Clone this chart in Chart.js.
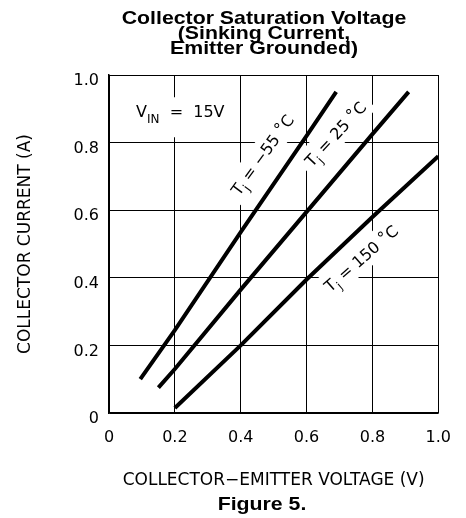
<!DOCTYPE html>
<html lang="en">
<head>
<meta charset="UTF-8">
<title>Collector Saturation Voltage</title>
<style>
  body { margin: 0; background: #fff; }
  canvas { display: block; }
</style>
</head>
<body>
<canvas id="grafico" width="466" height="518"></canvas>
<script src="https://cdn.jsdelivr.net/npm/chart.js"></script>
<script>
  // valores
  const vceM55 = [0.095, 0.2, 0.4, 0.6, 0.69];
  const icM55  = [0.10, 0.245, 0.535, 0.82, 0.95];
  const vce25  = [0.15, 0.2, 0.4, 0.6, 0.8, 0.91];
  const ic25   = [0.075, 0.13, 0.365, 0.595, 0.825, 0.95];
  const vce150 = [0.2, 0.4, 0.6, 0.8, 1.0];
  const ic150  = [0.015, 0.20, 0.395, 0.58, 0.76];
  const temps  = ['\u221255', '25', '150'];
  const xTicks = [0, 0.2, 0.4, 0.6, 0.8, 1.0];
  const yTicks = [0, 0.2, 0.4, 0.6, 0.8, 1.0];
  const titulo = ['Collector Saturation Voltage', '(Sinking Current,', 'Emitter Grounded)'];
  const legenda = 'Figure 5.';

  const FONTE = '"DejaVu Sans", sans-serif';
  const FONTE_TIT = '"Liberation Sans", Arial, sans-serif';

  // onde ficam os rotulos das curvas (coordenadas de dados) e o angulo
  const rotulos = [
    { temp: temps[0], x: 0.465, y: 0.764, ang: 54 },
    { temp: temps[1], x: 0.687, y: 0.826, ang: 47 },
    { temp: temps[2], x: 0.765, y: 0.458, ang: 41 }
  ];

  function pontos(xs, ys) {
    return xs.map((v, i) => ({ x: v, y: ys[i] }));
  }

  // desenha texto com partes (subscrito etc), retorna a largura
  function partes(ctx, lista, x0, base, desenhar) {
    let x = x0;
    lista.forEach(p => {
      ctx.font = p.size + 'px ' + FONTE;
      if (desenhar) ctx.fillText(p.t, x, base + (p.dy || 0));
      x += ctx.measureText(p.t).width;
    });
    return x - x0;
  }

  // texto em negrito um pouco esticado na horizontal, como no original
  function textoLargo(ctx, txt, cx, base) {
    ctx.save();
    ctx.translate(cx, base);
    ctx.scale(1.15, 1);
    ctx.fillText(txt, 0, 0);
    ctx.restore();
  }

  const anotacoes = {
    id: 'anotacoes',
    beforeDatasetsDraw(chart) {
      const { ctx, scales: { x, y } } = chart;
      ctx.save();
      ctx.textBaseline = 'alphabetic';
      ctx.textAlign = 'left';

      // caixa V_IN
      const vin = [
        { t: 'V', size: 16 },
        { t: 'IN', size: 12, dy: 6 },
        { t: '  =  15V', size: 16 }
      ];
      const vx = x.getPixelForValue(0.082);
      const vy = y.getPixelForValue(0.875);
      const vw = partes(ctx, vin, vx, vy, false);
      ctx.fillStyle = '#fff';
      ctx.fillRect(vx - 6, vy - 20, vw + 12, 40);
      ctx.fillStyle = '#000';
      partes(ctx, vin, vx, vy, true);

      // rotulos Tj
      rotulos.forEach(r => {
        const txt = [
          { t: 'T', size: 16 },
          { t: 'j', size: 12, dy: 5 },
          { t: ' = ' + r.temp + ' ', size: 16 },
          { t: '\u00b0', size: 16, dy: -2 },
          { t: 'C', size: 16 }
        ];
        const px = x.getPixelForValue(r.x);
        const py = y.getPixelForValue(r.y);
        ctx.save();
        ctx.translate(px, py);
        ctx.rotate(-r.ang * Math.PI / 180);
        const w = partes(ctx, txt, 0, 0, false);
        ctx.fillStyle = '#fff';
        ctx.fillRect(-w / 2 - 6, -13, w + 12, 26);
        ctx.fillStyle = '#000';
        partes(ctx, txt, -w / 2, 6, true);
        ctx.restore();
      });
      ctx.restore();
    },
    afterDraw(chart) {
      const { ctx } = chart;
      ctx.save();
      ctx.fillStyle = '#000';
      ctx.textAlign = 'center';
      ctx.textBaseline = 'alphabetic';
      ctx.font = 'bold 18.5px ' + FONTE_TIT;
      const bases = [24, 38.5, 54];
      titulo.forEach((l, i) => textoLargo(ctx, l, 264, bases[i]));
      textoLargo(ctx, legenda, 262, 510);
      ctx.restore();
    }
  };

  const estiloLinha = {
    borderColor: '#000',
    borderWidth: 4,
    borderCapStyle: 'butt',
    pointRadius: 0,
    tension: 0,
    fill: false
  };

  new Chart(document.getElementById('grafico'), {
    type: 'line',
    data: {
      datasets: [
        { label: 'Tj = ' + temps[0] + ' \u00b0C', data: pontos(vceM55, icM55), ...estiloLinha },
        { label: 'Tj = ' + temps[1] + ' \u00b0C', data: pontos(vce25, ic25), ...estiloLinha },
        { label: 'Tj = ' + temps[2] + ' \u00b0C', data: pontos(vce150, ic150), ...estiloLinha }
      ]
    },
    options: {
      responsive: false,
      animation: false,
      layout: { padding: { top: 75, right: 21, left: 0, bottom: 0 } },
      plugins: {
        legend: { display: false },
        tooltip: { enabled: false },
        title: { display: false }
      },
      scales: {
        x: {
          type: 'linear',
          min: 0,
          max: 1,
          afterBuildTicks: s => { s.ticks = xTicks.map(v => ({ value: v })); },
          afterFit: s => { s.height = 105; },
          grid: { color: '#000', lineWidth: 1, drawTicks: false },
          border: { color: '#000', width: 1.5 },
          ticks: {
            color: '#000',
            padding: 15,
            font: { family: FONTE, size: 16 },
            callback: v => v === 0 ? '0' : v.toFixed(1)
          },
          title: {
            display: true,
            text: 'COLLECTOR\u2212EMITTER VOLTAGE (V)',
            color: '#000',
            font: { family: FONTE, size: 17 },
            padding: { top: 0, bottom: 27 }
          }
        },
        y: {
          type: 'linear',
          min: 0,
          max: 1,
          afterBuildTicks: s => { s.ticks = yTicks.map(v => ({ value: v })); },
          afterFit: s => { s.width = 109; },
          grid: { color: '#000', lineWidth: 1, drawTicks: false },
          border: { color: '#000', width: 1.5 },
          ticks: {
            color: '#000',
            padding: 10,
            labelOffset: 6,
            font: { family: FONTE, size: 16 },
            callback: v => v === 0 ? '0' : v.toFixed(1)
          },
          title: {
            display: true,
            text: 'COLLECTOR CURRENT (A)',
            color: '#000',
            font: { family: FONTE, size: 17 },
            padding: { top: 15, bottom: 0 }
          }
        }
      }
    },
    plugins: [anotacoes]
  });
</script>
</body>
</html>
